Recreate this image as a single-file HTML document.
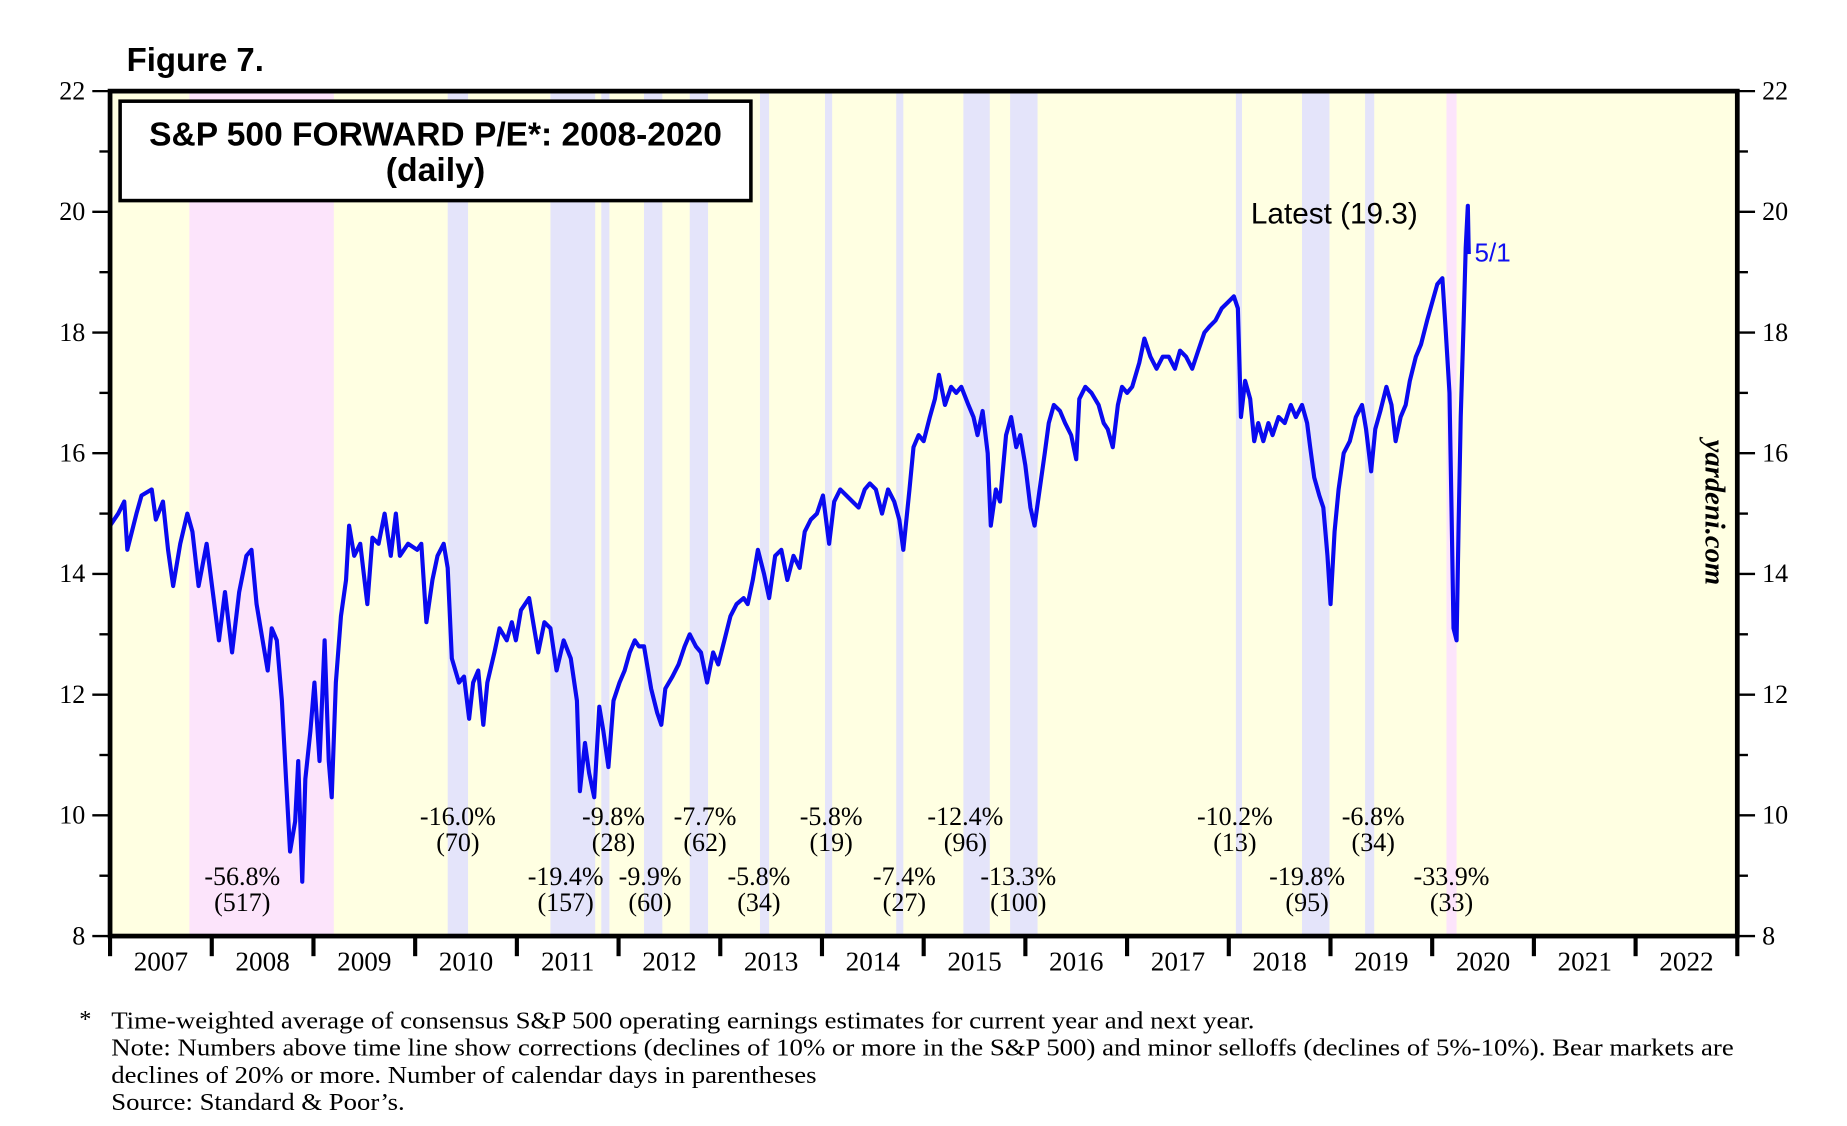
<!DOCTYPE html>
<html><head><meta charset="utf-8"><style>
html,body{margin:0;padding:0;background:#fff;}
svg{display:block;}
</style></head><body>
<svg id="chart" width="1847" height="1126" viewBox="0 0 1560.7 951.5" preserveAspectRatio="none" xmlns="http://www.w3.org/2000/svg" font-family="'Liberation Serif', serif">
<text x="107" y="60" font-family="'Liberation Sans', sans-serif" font-weight="bold" font-size="28" textLength="116" lengthAdjust="spacingAndGlyphs">Figure 7.</text>
<g id="plot"></g>
</svg>
<script>
// years since 2007 (x positions in time)
const dates = [0,.08,.14,.17,.26,.31,.41,.45,.52,.57,.62,.69,.76,.81,.87,.95,1.01,1.07,1.13,1.20,1.27,1.34,1.39,1.44,1.50,1.55,1.59,1.64,1.69,1.73,1.77,1.82,1.85,1.89,1.92,1.97,2.01,2.06,2.11,2.15,2.18,2.22,2.27,2.32,2.35,2.40,2.46,2.53,2.58,2.64,2.70,2.76,2.81,2.85,2.93,3.02,3.06,3.11,3.17,3.22,3.28,3.32,3.36,3.43,3.48,3.53,3.57,3.62,3.67,3.71,3.78,3.83,3.90,3.95,3.99,4.04,4.12,4.16,4.21,4.27,4.33,4.39,4.46,4.53,4.59,4.62,4.67,4.71,4.76,4.81,4.85,4.90,4.95,5.01,5.06,5.11,5.16,5.20,5.25,5.32,5.38,5.42,5.46,5.53,5.59,5.65,5.70,5.76,5.81,5.87,5.93,5.98,6.04,6.10,6.16,6.23,6.27,6.32,6.37,6.43,6.48,6.54,6.60,6.66,6.72,6.78,6.83,6.89,6.95,7.01,7.07,7.12,7.18,7.24,7.30,7.36,7.42,7.47,7.53,7.59,7.65,7.71,7.76,7.80,7.86,7.90,7.95,8.00,8.06,8.11,8.15,8.21,8.27,8.32,8.37,8.44,8.49,8.53,8.58,8.63,8.66,8.71,8.75,8.81,8.86,8.91,8.95,9.00,9.05,9.09,9.14,9.19,9.23,9.28,9.34,9.39,9.45,9.50,9.53,9.59,9.65,9.72,9.77,9.81,9.86,9.91,9.95,10.00,10.05,10.12,10.17,10.23,10.29,10.35,10.41,10.47,10.52,10.58,10.64,10.70,10.76,10.81,10.87,10.93,10.99,11.05,11.09,11.12,11.16,11.21,11.25,11.29,11.34,11.39,11.43,11.49,11.55,11.61,11.66,11.72,11.77,11.80,11.84,11.89,11.93,11.97,12.00,12.04,12.08,12.13,12.19,12.25,12.31,12.35,12.40,12.44,12.49,12.55,12.60,12.64,12.69,12.74,12.78,12.84,12.89,12.95,13.00,13.05,13.10,13.13,13.17,13.19,13.21,13.24,13.26,13.28,13.31,13.33,13.35,13.36];
const peValues = [14.8,15.0,15.2,14.4,15.0,15.3,15.4,14.9,15.2,14.4,13.8,14.5,15.0,14.7,13.8,14.5,13.7,12.9,13.7,12.7,13.7,14.3,14.4,13.5,12.9,12.4,13.1,12.9,11.9,10.6,9.4,9.9,10.9,8.9,10.6,11.4,12.2,10.9,12.9,10.9,10.3,12.2,13.3,13.9,14.8,14.3,14.5,13.5,14.6,14.5,15.0,14.3,15.0,14.3,14.5,14.4,14.5,13.2,13.9,14.3,14.5,14.1,12.6,12.2,12.3,11.6,12.2,12.4,11.5,12.2,12.7,13.1,12.9,13.2,12.9,13.4,13.6,13.2,12.7,13.2,13.1,12.4,12.9,12.6,11.9,10.4,11.2,10.7,10.3,11.8,11.4,10.8,11.9,12.2,12.4,12.7,12.9,12.8,12.8,12.1,11.7,11.5,12.1,12.3,12.5,12.8,13.0,12.8,12.7,12.2,12.7,12.5,12.9,13.3,13.5,13.6,13.5,13.9,14.4,14.0,13.6,14.3,14.4,13.9,14.3,14.1,14.7,14.9,15.0,15.3,14.5,15.2,15.4,15.3,15.2,15.1,15.4,15.5,15.4,15.0,15.4,15.2,14.9,14.4,15.4,16.1,16.3,16.2,16.6,16.9,17.3,16.8,17.1,17.0,17.1,16.8,16.6,16.3,16.7,16.0,14.8,15.4,15.2,16.3,16.6,16.1,16.3,15.8,15.1,14.8,15.4,16.0,16.5,16.8,16.7,16.5,16.3,15.9,16.9,17.1,17.0,16.8,16.5,16.4,16.1,16.8,17.1,17.0,17.1,17.5,17.9,17.6,17.4,17.6,17.6,17.4,17.7,17.6,17.4,17.7,18.0,18.1,18.2,18.4,18.5,18.6,18.4,16.6,17.2,16.9,16.2,16.5,16.2,16.5,16.3,16.6,16.5,16.8,16.6,16.8,16.5,16.1,15.6,15.3,15.1,14.3,13.5,14.7,15.4,16.0,16.2,16.6,16.8,16.4,15.7,16.4,16.7,17.1,16.8,16.2,16.6,16.8,17.2,17.6,17.8,18.2,18.5,18.8,18.9,18.1,17.0,15.1,13.1,12.9,14.8,16.6,18.2,19.4,20.1,19.3];
const yTicks = [8,10,12,14,16,18,20,22];
const yearLabels = ["2007","2008","2009","2010","2011","2012","2013","2014","2015","2016","2017","2018","2019","2020","2021","2022"];
const bandStarts = [0.78,3.32,4.33,4.83,5.25,5.70,6.39,7.03,7.73,8.39,8.85,11.07,11.72,12.34,13.14];
const bandEnds   = [2.20,3.52,4.77,4.91,5.43,5.88,6.48,7.10,7.80,8.65,9.12,11.13,11.99,12.43,13.24];
const bandKinds  = ["bear","corr","corr","corr","corr","corr","corr","corr","corr","corr","corr","corr","corr","corr","bear"];
const corrPct  = ["-56.8%","-16.0%","-19.4%","-9.8%","-9.9%","-7.7%","-5.8%","-5.8%","-7.4%","-12.4%","-13.3%","-10.2%","-19.8%","-6.8%","-33.9%"];
const corrDays = ["(517)","(70)","(157)","(28)","(60)","(62)","(34)","(19)","(27)","(96)","(100)","(13)","(95)","(34)","(33)"];
const corrAt   = [1.30,3.42,4.48,4.95,5.31,5.85,6.38,7.09,7.81,8.41,8.93,11.06,11.77,12.42,13.19];
const corrRow  = [1,0,1,0,1,0,1,0,1,0,1,0,1,0,1];

const NS="http://www.w3.org/2000/svg";
const g=document.getElementById('plot');
const L=93,R=1468,T=77,B=791;
const xs=d=>L+(R-L)*d/16;
const ys=v=>B-(B-T)*(v-8)/14;
function mk(tag,attrs,parent){const e=document.createElementNS(NS,tag);for(const k in attrs)e.setAttribute(k,attrs[k]);(parent||g).appendChild(e);return e;}

let e=mk('rect',{x:L,y:T,width:R-L,height:B-T,fill:'#ffffe2'});


bandStarts.forEach((s,i)=>{
  const r=mk('rect',{x:xs(s),y:T,width:xs(bandEnds[i])-xs(s),height:B-T,fill:bandKinds[i]==='bear'?'#fce4fb':'#e4e4fa'});
  
  
});
corrPct.forEach((p,i)=>{
  const y0=corrRow[i]?748:697;
  const t1=mk('text',{x:xs(corrAt[i]),y:y0,'text-anchor':'middle','font-size':22});
  t1.textContent=p;
  
  
  const t2=mk('text',{x:xs(corrAt[i]),y:y0+22,'text-anchor':'middle','font-size':22});
  t2.textContent=corrDays[i];
  
  
});
let d='';dates.forEach((t,i)=>{d+=(i?'L':'M')+xs(t).toFixed(1)+' '+ys(peValues[i]).toFixed(1);});
e=mk('path',{d:d,fill:'none',stroke:'#0a0af0','stroke-width':3.5,'stroke-linejoin':'round'});


e=mk('rect',{x:L,y:T,width:R-L,height:B-T,fill:'none',stroke:'#000','stroke-width':4});


for(let v=8;v<=22;v++){
  const major=v%2===0,len=major?15:9;
  mk('line',{x1:L-len,x2:L,y1:ys(v),y2:ys(v),stroke:'#000','stroke-width':2});
  mk('line',{x1:R,x2:R+len,y1:ys(v),y2:ys(v),stroke:'#000','stroke-width':2});
}
yTicks.forEach(v=>{
  const a=mk('text',{x:72,y:ys(v)+7,'text-anchor':'end','font-size':22});a.textContent=v;
  
  
  const b=mk('text',{x:1489,y:ys(v)+7,'font-size':22});b.textContent=v;
  
  
});
for(let i=0;i<=16;i++){mk('line',{x1:xs(i),x2:xs(i),y1:B,y2:B+17,stroke:'#000','stroke-width':3.5});}
yearLabels.forEach((y,i)=>{
  const t=mk('text',{x:xs(i+0.5),y:820,'text-anchor':'middle','font-size':23});t.textContent=y;
  
  
});
</script>
<svg style="position:absolute;left:0;top:0" width="1847" height="1126" viewBox="0 0 1560.7 951.5" preserveAspectRatio="none" xmlns="http://www.w3.org/2000/svg" font-family="'Liberation Serif', serif">
<g>
<rect x="101.5" y="85.5" width="533" height="84" fill="#fff" stroke="#000" stroke-width="3"/>
<text x="368" y="123" text-anchor="middle" font-family="'Liberation Sans', sans-serif" font-weight="bold" font-size="28.5" textLength="484" lengthAdjust="spacingAndGlyphs">S&amp;P 500 FORWARD P/E*: 2008-2020</text>
<text x="368" y="153" text-anchor="middle" font-family="'Liberation Sans', sans-serif" font-weight="bold" font-size="28.5" textLength="84" lengthAdjust="spacingAndGlyphs">(daily)</text>
</g>
<text x="1057" y="189" font-family="'Liberation Sans', sans-serif" font-size="25" textLength="141" lengthAdjust="spacingAndGlyphs">Latest (19.3)</text>
<text x="1246" y="221" fill="#1010f0" font-family="'Liberation Sans', sans-serif" font-size="22">5/1</text>
<text transform="translate(1441,433) rotate(90)" text-anchor="middle" font-weight="bold" font-style="italic" font-size="24" textLength="123" lengthAdjust="spacingAndGlyphs">yardeni.com</text>
<g font-size="20.5">
<text x="67" y="868">*</text>
<text x="94" y="869" textLength="966" lengthAdjust="spacingAndGlyphs">Time-weighted average of consensus S&amp;P 500 operating earnings estimates for current year and next year.</text>
<text x="94" y="892" textLength="1371" lengthAdjust="spacingAndGlyphs">Note: Numbers above time line show corrections (declines of 10% or more in the S&amp;P 500) and minor selloffs (declines of 5%-10%). Bear markets are</text>
<text x="94" y="915" textLength="596" lengthAdjust="spacingAndGlyphs">declines of 20% or more. Number of calendar days in parentheses</text>
<text x="94" y="938" textLength="248" lengthAdjust="spacingAndGlyphs">Source: Standard &amp; Poor’s.</text>
</g>
</svg>
</body></html>
